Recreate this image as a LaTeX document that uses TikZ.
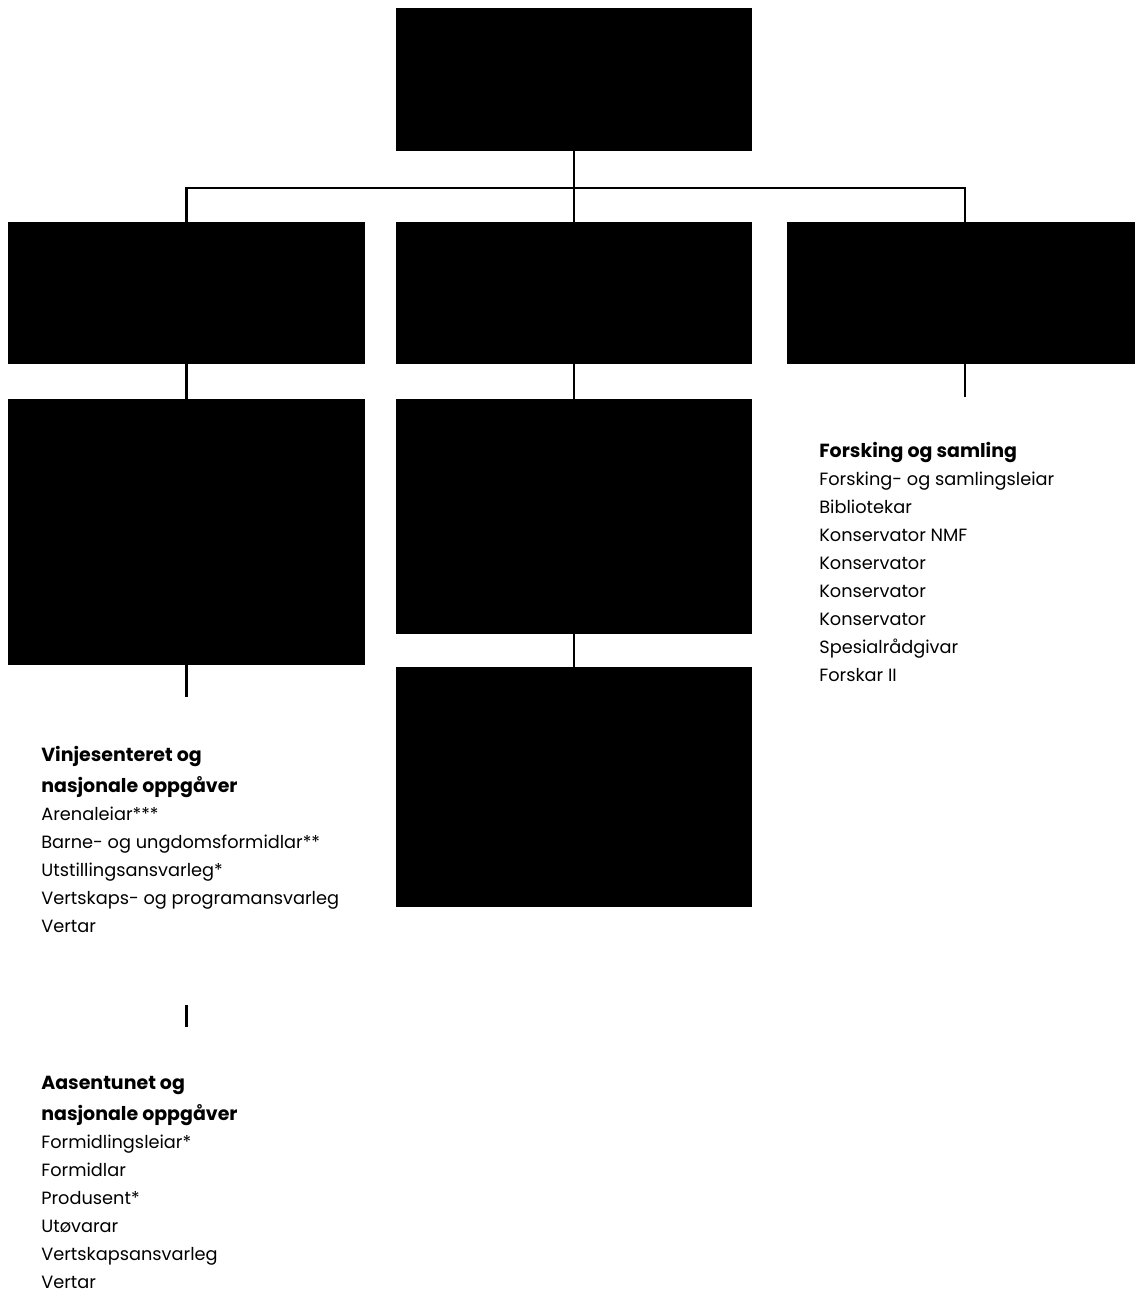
\documentclass[tikz,border=0pt]{standalone}
\usepackage{fontspec}
\setmainfont{Poppins}
\usepackage{tikz}

\newcommand\unithead[1]{{\bfseries\fontsize{10.8}{15.9}\selectfont #1}}

\tikzset{
  unitbox/.style={fill=black, draw=none, inner sep=0pt, minimum width=7.14cm},
  link/.style={line width=1.4pt},
  stafflist/.style={anchor=base west, inner sep=0pt, align=left,
    font=\fontsize{10.1}{15.9}\selectfont}
}

\begin{document}
\begin{tikzpicture}[x=0.02cm, y=-0.02cm]
  \useasboundingbox (0,0) rectangle (1135,1292);
  \clip (0,0) rectangle (1135,1292);
  % boxes
  \node[unitbox, minimum height=2.86cm] (top) at (574,79.5) {};
  \node[unitbox, minimum height=2.84cm] (l1) at (186.5,293) {};
  \node[unitbox, minimum height=2.84cm] (m1) at (574,293) {};
  \node[unitbox, minimum height=2.84cm] (r1) at (965,293) {};
  \node[unitbox, minimum height=5.32cm] (l2) at (186.5,532) {};
  \node[unitbox, minimum height=4.70cm] (m2) at (574,516.5) {};
  \node[unitbox, minimum height=4.80cm] (m3) at (574,787) {};
  % connectors
  \coordinate (bus) at (574,188);
  \draw[link] (top.south) -- (bus) -- (m1.north);
  \draw[link] (l1.north) |- (bus) -| (r1.north);
  \draw[link] (l1.south) -- (l2.north);
  \draw[link] (m1.south) -- (m2.north);
  \draw[link] (m2.south) -- (m3.north);
  \coordinate (rstub) at (965,397);
  \coordinate (lstub) at (186.5,697);
  \draw[link] (r1.south) -- (rstub);
  \draw[link] (l2.south) -- (lstub);
  \coordinate (gapa) at (186.5,1005);
  \coordinate (gapb) at (186.5,1027);
  \draw[link] (gapa) -- (gapb);
  % staff lists (anchored on the last line)
  \node[stafflist] (vinje) at (41,932) {\unithead{Vinjesenteret og}\\[1.7pt]
    \unithead{nasjonale oppgåver}\\
    Arenaleiar***\\
    Barne- og ungdomsformidlar**\\
    Utstillingsansvarleg*\\
    Vertskaps- og programansvarleg\\
    Vertar};
  \node[stafflist] (aasen) at (41,1288) {\unithead{Aasentunet og}\\[1.7pt]
    \unithead{nasjonale oppgåver}\\
    Formidlingsleiar*\\
    Formidlar\\
    Produsent*\\
    Utøvarar\\
    Vertskapsansvarleg\\
    Vertar};
  \node[stafflist] (forsking) at (819,681) {\unithead{Forsking og samling}\\
    Forsking- og samlingsleiar\\
    Bibliotekar\\
    Konservator NMF\\
    Konservator\\
    Konservator\\
    Konservator\\
    Spesialrådgivar\\
    Forskar II};
\end{tikzpicture}
\end{document}
